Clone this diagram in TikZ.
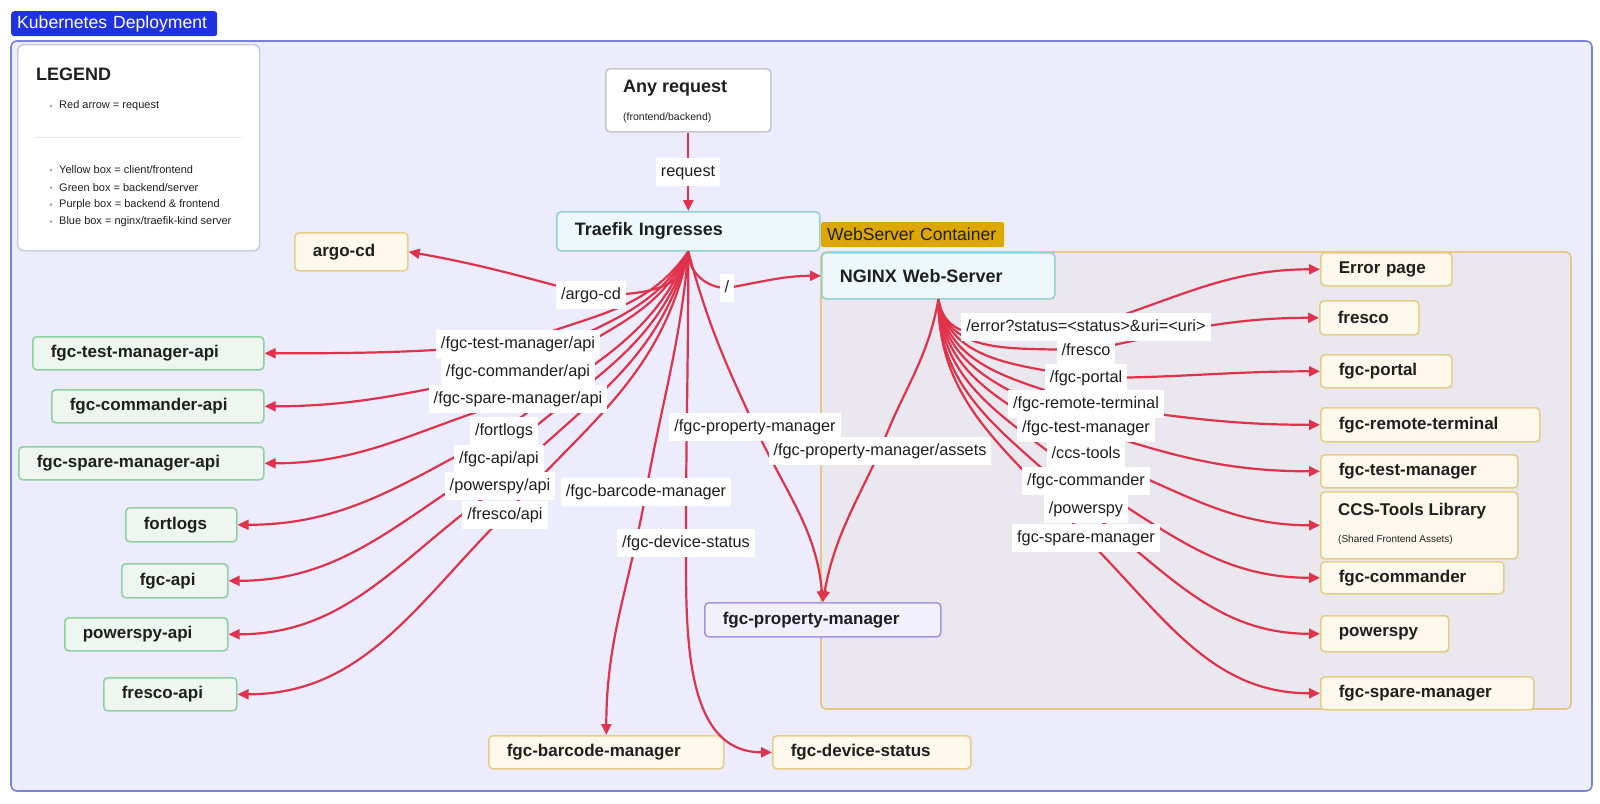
\documentclass[tikz,border=0pt]{standalone}
\usepackage{fontspec}
\setmainfont{Liberation Sans}
\usetikzlibrary{arrows.meta}
\definecolor{ofl}{HTML}{ECECFC}
\definecolor{obd}{HTML}{7A80DE}
\definecolor{tagblue}{HTML}{1E32E3}
\definecolor{wsfl}{HTML}{EAE7EF}
\definecolor{wsbd}{HTML}{E3C887}
\definecolor{gold}{HTML}{DCA800}
\definecolor{yfl}{HTML}{FDF8EC}
\definecolor{ybd}{HTML}{E6CD8A}
\definecolor{gfl}{HTML}{EEF6EF}
\definecolor{gbd}{HTML}{8DD3A0}
\definecolor{cfl}{HTML}{EEF7F9}
\definecolor{cbd}{HTML}{8FD3D3}
\definecolor{pfl}{HTML}{F2F0FC}
\definecolor{pbd}{HTML}{A597E8}
\definecolor{wbd}{HTML}{C8C8CC}
\definecolor{lgbd}{HTML}{C9C9D2}
\definecolor{redc}{HTML}{E0334B}
\definecolor{ink}{HTML}{1F1F1F}
\definecolor{bulgray}{HTML}{A8A8A8}
\definecolor{sepc}{HTML}{E6E6EC}
\tikzset{
  nb/.style={draw, rounded corners=4pt, line width=1.6pt, anchor=north west,
    inner xsep=18pt, inner ysep=0pt, align=left, text=ink,
    font=\fontsize{17}{20}\selectfont\bfseries},
  ybox/.style={nb, draw=ybd, fill=yfl},
  gbox/.style={nb, draw=gbd, fill=gfl},
  cbox/.style={nb, draw=cbd, fill=cfl, font=\fontsize{18}{21}\selectfont\bfseries},
  pbox/.style={nb, draw=pbd, fill=pfl},
  wbox/.style={nb, draw=wbd, fill=white},
  lbl/.style={fill=white, inner xsep=5pt, inner ysep=6.5pt, text=ink,
    font=\fontsize{16.3}{19}\selectfont, text height=11.5pt, text depth=3.5pt},
  req/.style={draw=redc, line width=2.2pt, -{Triangle[length=11pt,width=10pt]}},
  legtxt/.style={anchor=west, text=ink, inner sep=0pt, font=\fontsize{11}{13}\selectfont},
  intxt/.style={anchor=west, text=ink, inner sep=0pt},
}
\begin{document}
\begin{tikzpicture}[x=1pt,y=1pt]
\useasboundingbox (0,0) rectangle (1600,-803);
\fill[white] (0,0) rectangle (1600,-803);
% outer cluster
\draw[draw=obd, fill=ofl, line width=1.6pt, rounded corners=6pt] (11,-41) rectangle (1592,-791);
\node[fill=tagblue, text=white, rounded corners=3pt, anchor=north west, minimum height=25pt,
  minimum width=206pt, inner xsep=6pt, inner ysep=0pt, text width=194pt, align=left,
  font=\fontsize{17.6}{20}\selectfont] (title) at (11,-11) {\mbox{Kubernetes Deployment}};
% webserver container
\draw[draw=wsbd, fill=wsfl, line width=1.6pt, rounded corners=5pt] (821,-252) rectangle (1571,-709);
\node[fill=gold, text=ink, rounded corners=2pt, anchor=north west, minimum height=25pt,
  inner xsep=6pt, inner ysep=0pt, text width=171pt, align=left,
  font=\fontsize{17.5}{20}\selectfont] (wstag) at (821,-222) {\mbox{WebServer Container}};
% legend
\node[draw=lgbd, fill=white, line width=1.4pt, rounded corners=6pt, anchor=north west,
  minimum width=242pt, minimum height=206pt, inner sep=0pt] (legend) at (17,-44) {};
\node[anchor=west, inner sep=0pt, text=ink, font=\fontsize{18}{21}\selectfont\bfseries] (legtitle) at (36,-74) {LEGEND};
\draw[sepc, line width=1pt] (35,-137) -- (241,-137);
\foreach \yy in {106,170,187.5,204.5,221.5} \fill[bulgray] (51,-\yy) circle (1.5);
\node[legtxt] (lg1) at (59,-106) {Red arrow = request};
\node[legtxt] (lg2) at (59,-170) {Yellow box = client/frontend};
\node[legtxt] (lg3) at (59,-187.5) {Green box = backend/server};
\node[legtxt] (lg4) at (59,-204.5) {Purple box = backend \& frontend};
\node[legtxt] (lg5) at (59,-221.5) {Blue box = nginx/traefik-kind server};
% main nodes
\node[wbox, minimum width=165pt, minimum height=63pt, inner sep=0pt] (ar) at (605,-68) {};
\node[intxt, font=\fontsize{18}{21}\selectfont\bfseries] (artitle) at (623,-88) {Any request};
\node[intxt, font=\fontsize{10.5}{12}\selectfont] (arsub) at (623,-118) {(frontend/backend)};
\node[cbox, text width=227pt, minimum height=39pt] (tr) at (556,-211) {Traefik Ingresses};
\node[cbox, text width=197pt, minimum height=46pt] (ng) at (821,-252) {NGINX Web-Server};
\node[ybox, text width=77pt, minimum height=38pt] (argo) at (294,-232) {argo-cd};
% left green
\node[gbox, text width=195pt, minimum height=33pt] (tma) at (32,-336) {fgc-test-manager-api};
\node[gbox, text width=176pt, minimum height=33pt] (cma) at (51,-389) {fgc-commander-api};
\node[gbox, text width=209pt, minimum height=33pt] (spa) at (18,-446) {fgc-spare-manager-api};
\node[gbox, text width=75pt, minimum height=34pt] (ftl) at (125,-507) {fortlogs};
\node[gbox, text width=70pt, minimum height=34pt] (fga) at (121,-563) {fgc-api};
\node[gbox, text width=127pt, minimum height=33pt] (psa) at (64,-617) {powerspy-api};
\node[gbox, text width=97pt, minimum height=33pt] (fra) at (103,-677) {fresco-api};
% bottom
\node[ybox, text width=199pt, minimum height=33pt] (bc) at (488,-735) {fgc-barcode-manager};
\node[ybox, text width=162pt, minimum height=33pt] (ds) at (772,-735) {fgc-device-status};
\node[pbox, text width=200pt, minimum height=34pt] (pm) at (704,-602) {fgc-property-manager};
% right yellow
\node[ybox, text width=95pt, minimum height=33pt] (err) at (1320,-252) {Error page};
\node[ybox, text width=63pt, minimum height=34pt] (frs) at (1319,-300) {fresco};
\node[ybox, text width=95pt, minimum height=33pt] (por) at (1320,-354) {fgc-portal};
\node[ybox, text width=183pt, minimum height=34pt] (rt) at (1320,-407) {fgc-remote-terminal};
\node[ybox, text width=161pt, minimum height=33pt] (tm) at (1320,-454) {fgc-test-manager};
\node[ybox, minimum width=197pt, minimum height=67pt, inner sep=0pt] (ccs) at (1320,-491) {};
\node[intxt, font=\fontsize{17}{20}\selectfont\bfseries] (ccstitle) at (1338,-511) {CCS-Tools Library};
\node[intxt, font=\fontsize{10}{12}\selectfont] (ccssub) at (1338,-540) {(Shared Frontend Assets)};
\node[ybox, text width=147pt, minimum height=32pt] (cmd) at (1320,-561) {fgc-commander};
\node[ybox, text width=92pt, minimum height=36pt] (psp) at (1320,-615) {powerspy};
\node[ybox, text width=177pt, minimum height=33pt] (spm) at (1320,-676) {fgc-spare-manager};
% label coordinates
\coordinate (creq) at (688,-172);
\coordinate (cargo) at (591,-295);
\coordinate (cslash) at (727,-288);
\coordinate (ctm) at (518,-344);
\coordinate (ccm) at (518,-372);
\coordinate (csp) at (518,-399);
\coordinate (cft) at (504,-431);
\coordinate (cfa) at (499,-459);
\coordinate (cps) at (500,-486);
\coordinate (cfr) at (505,-515);
\coordinate (cbc) at (646,-492);
\coordinate (cds) at (686,-543);
\coordinate (cpm) at (755,-427);
\coordinate (cpa) at (880,-451);
\coordinate (cer) at (1086,-327);
\coordinate (cfs) at (1086,-351);
\coordinate (cpo) at (1086,-378);
\coordinate (crt) at (1086,-404);
\coordinate (ctt) at (1086,-428);
\coordinate (ccc) at (1086,-454);
\coordinate (ccd) at (1086,-481);
\coordinate (cpw) at (1086,-509);
\coordinate (csm) at (1086,-538);
% edges
\draw[req] (ar.south) -- (tr.north);
\draw[req] (tr.south) to[out=-90,in=0] (cargo) to[out=165,in=-10] (argo.east);
\draw[req] (tr.south) to[out=-90,in=180] (cslash) to[out=10,in=180] (ng.west);
\draw[req] (tr.south) to[out=235,in=23] (ctm) to[out=185,in=0] (tma.east);
\draw[req] (tr.south) to[out=240,in=36] (ccm) to[out=190,in=0] (cma.east);
\draw[req] (tr.south) to[out=245,in=50] (csp) to[out=196,in=0] (spa.east);
\draw[req] (tr.south) to[out=248,in=40] (cft) to[out=207,in=0] (ftl.east);
\draw[req] (tr.south) to[out=252,in=44] (cfa) to[out=211,in=0] (fga.east);
\draw[req] (tr.south) to[out=255,in=45] (cps) to[out=215,in=0] (psa.east);
\draw[req] (tr.south) to[out=258,in=48] (cfr) to[out=225,in=0] (fra.east);
\draw[req] (tr.south) to[out=-95,in=80] (cbc) to[out=-100,in=90] (bc.north);
\draw[req] (tr.south) to[out=-90,in=90] (cds) to[out=-90,in=180] (ds.west);
\draw[req] (tr.south) to[out=-75,in=115] (cpm) to[out=-65,in=95] (pm.north);
\draw[req] (ng.south) to[out=-100,in=70] (cpa) to[out=-115,in=80] (pm.north);
\draw[req] (ng.south) to[out=-80,in=180] (cer) to[out=17,in=180] (err.west);
\draw[req] (ng.south) to[out=-80,in=175] (cfs) to[out=12,in=180] (frs.west);
\draw[req] (ng.south) to[out=-80,in=168] (cpo) to[out=0,in=180] (por.west);
\draw[req] (ng.south) to[out=-82,in=160] (crt) to[out=-8,in=180] (rt.west);
\draw[req] (ng.south) to[out=-84,in=152] (ctt) to[out=-18,in=180] (tm.west);
\draw[req] (ng.south) to[out=-86,in=145] (ccc) to[out=-20,in=180] (ccs.west);
\draw[req] (ng.south) to[out=-88,in=140] (ccd) to[out=-32,in=180] (cmd.west);
\draw[req] (ng.south) to[out=-90,in=135] (cpw) to[out=-38,in=180] (psp.west);
\draw[req] (ng.south) to[out=-90,in=130] (csm) to[out=-45,in=180] (spm.west);
% edge labels
\node[lbl] (lreq) at (creq) {request};
\node[lbl] (largo) at (cargo) {/argo-cd};
\node[lbl] (lslash) at (cslash) {/};
\node[lbl] (lpm) at (cpm) {/fgc-property-manager};
\node[lbl] (lpa) at (cpa) {/fgc-property-manager/assets};
\node[lbl] (lbc) at (cbc) {/fgc-barcode-manager};
\node[lbl] (lds) at (cds) {/fgc-device-status};
\node[lbl] (ltm) at (ctm) {/fgc-test-manager/api};
\node[lbl] (lcm) at (ccm) {/fgc-commander/api};
\node[lbl] (lsp) at (csp) {/fgc-spare-manager/api};
\node[lbl] (lft) at (cft) {/fortlogs};
\node[lbl] (lfa) at (cfa) {/fgc-api/api};
\node[lbl] (lps) at (cps) {/powerspy/api};
\node[lbl] (lfr) at (cfr) {/fresco/api};
\node[lbl] (ler) at (cer) {/error?status=<status>\&uri=<uri>};
\node[lbl] (lfs) at (cfs) {/fresco};
\node[lbl] (lpo) at (cpo) {/fgc-portal};
\node[lbl] (lrt) at (crt) {/fgc-remote-terminal};
\node[lbl] (ltt) at (ctt) {/fgc-test-manager};
\node[lbl] (lcc) at (ccc) {/ccs-tools};
\node[lbl] (lcd) at (ccd) {/fgc-commander};
\node[lbl] (lpw) at (cpw) {/powerspy};
\node[lbl] (lsm) at (csm) {fgc-spare-manager};
\end{tikzpicture}
\end{document}
